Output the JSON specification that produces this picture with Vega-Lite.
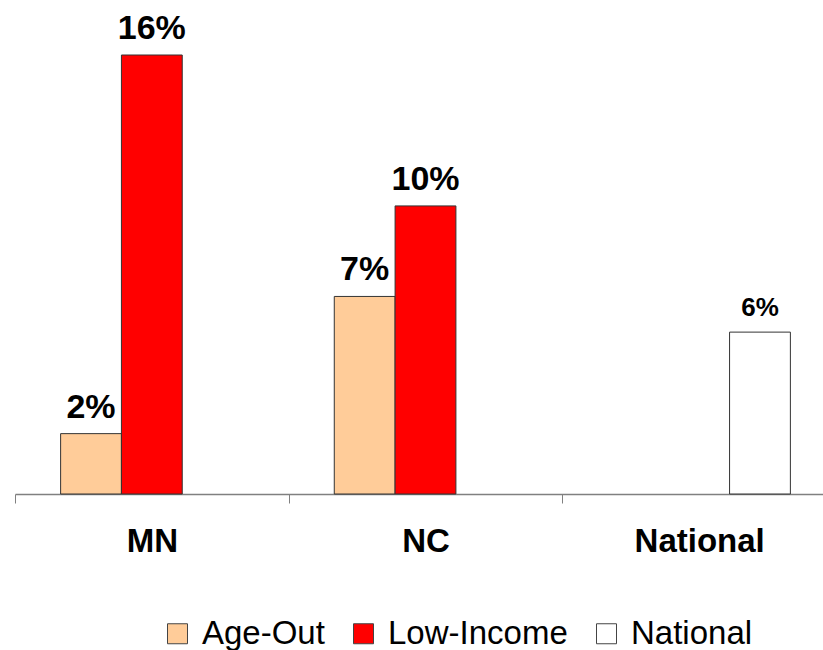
{
  "$schema": "https://vega.github.io/schema/vega-lite/v6.json",
  "width": 821,
  "height": 439,
  "autosize": "none",
  "padding": {"left": 15, "top": 55, "right": 0, "bottom": 156},
  "background": "white",
  "config": {
    "font": "Liberation Sans",
    "view": {"stroke": null}
  },
  "data": {
    "values": [
      {"group": "MN", "series": "Age-Out", "value": 2.2, "label": "2%"},
      {"group": "MN", "series": "Low-Income", "value": 16.0, "label": "16%"},
      {"group": "NC", "series": "Age-Out", "value": 7.2, "label": "7%"},
      {"group": "NC", "series": "Low-Income", "value": 10.5, "label": "10%"},
      {"group": "National", "series": "National", "value": 5.9, "label": "6%"}
    ]
  },
  "encoding": {
    "x": {
      "field": "group",
      "type": "nominal",
      "sort": ["MN", "NC", "National"],
      "scale": {"paddingInner": 0, "paddingOuter": 0},
      "axis": {
        "title": null,
        "labelAngle": 0,
        "labelFont": "Liberation Sans",
        "labelFontSize": 33,
        "labelFontWeight": "bold",
        "labelColor": "black",
        "labelPadding": 22,
        "tickBand": "extent",
        "tickSize": 9,
        "tickColor": "#808080",
        "domainColor": "#808080",
        "domainWidth": 1.5
      }
    },
    "xOffset": {
      "field": "series",
      "type": "nominal",
      "scale": {"domain": ["Age-Out", "Low-Income", "National"], "paddingOuter": 0.75, "paddingInner": 0}
    },
    "y": {
      "field": "value",
      "type": "quantitative",
      "scale": {"domain": [0, 16], "nice": false},
      "axis": null
    }
  },
  "layer": [
    {
      "mark": {"type": "bar", "stroke": "#333333", "strokeWidth": 1},
      "encoding": {
        "color": {
          "field": "series",
          "type": "nominal",
          "scale": {"domain": ["Age-Out", "Low-Income", "National"], "range": ["#FFCC99", "#FF0000", "#FFFFFF"]},
          "legend": {
            "title": null,
            "orient": "none",
            "direction": "horizontal",
            "legendX": 146,
            "legendY": 562,
            "symbolType": "square",
            "symbolSize": 400,
            "symbolStrokeColor": "#444444",
            "symbolStrokeWidth": 1,
            "symbolOpacity": 1,
            "labelFont": "Liberation Sans",
            "labelFontSize": 33,
            "labelColor": "black",
            "labelOffset": 8,
            "labelLimit": 400,
            "columnPadding": 22
          }
        }
      }
    },
    {
      "mark": {"type": "text", "baseline": "alphabetic", "dy": -16, "fontWeight": "bold", "color": "black"},
      "encoding": {
        "text": {"field": "label"},
        "size": {
          "condition": {"test": "datum.series === 'National'", "value": 26},
          "value": 34
        }
      }
    }
  ]
}
